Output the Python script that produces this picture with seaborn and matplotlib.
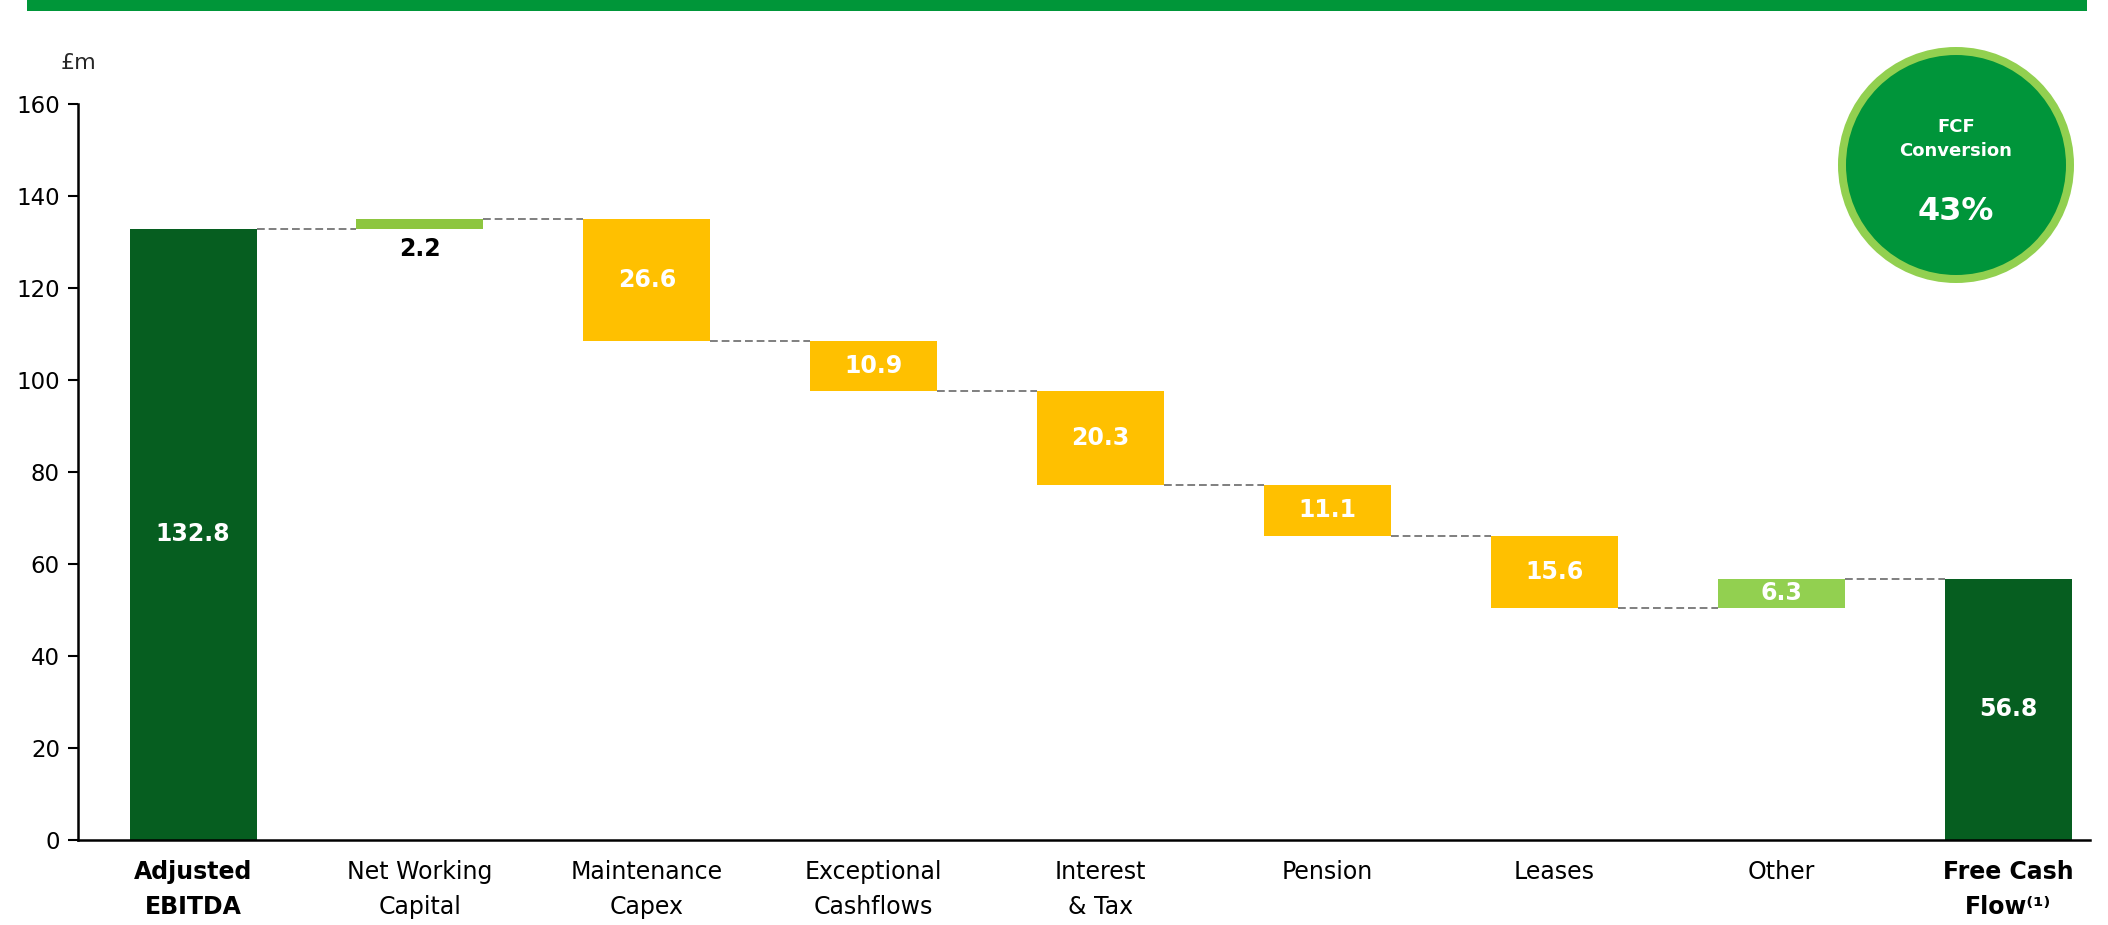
import matplotlib
matplotlib.use("Agg")
import matplotlib.pyplot as plt
from matplotlib.patches import Circle, Rectangle
import seaborn as sns
import pandas as pd
import numpy as np

# ---- data ----
categories = ["Adjusted\nEBITDA", "Net Working\nCapital", "Maintenance\nCapex",
              "Exceptional\nCashflows", "Interest\n& Tax", "Pension", "Leases",
              "Other", "Free Cash\nFlow⁽¹⁾"]
changes = [132.8, 2.2, -26.6, -10.9, -20.3, -11.1, -15.6, 6.3, 56.8]
kinds = ["total", "up", "down", "down", "down", "down", "down", "up", "total"]
value_labels = ["132.8", "2.2", "26.6", "10.9", "20.3", "11.1", "15.6", "6.3", "56.8"]
y_ticks = [0, 20, 40, 60, 80, 100, 120, 140, 160]
fcf_conversion = "43%"

# ---- styles ----
DARK = "#065E20"
LIGHT1 = "#8DC63F"
LIGHT2 = "#92D050"
YELLOW = "#FFC000"
colors = [DARK, LIGHT1, YELLOW, YELLOW, YELLOW, YELLOW, YELLOW, LIGHT2, DARK]

# compute bottoms / heights of waterfall
bottoms, heights, running = [], [], 0.0
for v, k in zip(changes, kinds):
    if k == "total":
        bottoms.append(0.0); heights.append(v); running = v
    elif v >= 0:
        bottoms.append(running); heights.append(v); running += v
    else:
        bottoms.append(running + v); heights.append(-v); running += v
levels = []
run = 0.0
for v, k in zip(changes, kinds):
    run = v if k == "total" else run + v
    levels.append(run)

df = pd.DataFrame({"cat": categories, "height": heights})

sns.set_style("white")
plt.rcParams["font.family"] = ["DejaVu Sans"]

W, H, DPI = 2108, 925, 100
fig = plt.figure(figsize=(W / DPI, H / DPI), dpi=DPI)
ax = fig.add_axes([78 / W, 1 - 840 / H, (2090 - 78) / W, (840 - 103.5) / H])

BW = 0.56
sns.barplot(data=df, x="cat", y="height", order=categories, ax=ax,
            width=BW, bottom=bottoms, color=DARK, linewidth=0, saturation=1)
for p, c in zip(ax.patches, colors):
    p.set_facecolor(c)

# connectors
for i in range(len(categories) - 1):
    ax.plot([i + BW / 2, i + 1 - BW / 2], [levels[i], levels[i]],
            color="#7F7F7F", lw=1.4, ls=(0, (4, 2)), zorder=1)

# value labels
for i, (b, h, lab) in enumerate(zip(bottoms, heights, value_labels)):
    if i == 1:
        ax.text(i, b - 4.5, lab, ha="center", va="center", fontsize=17,
                fontweight="bold", color="black")
    else:
        ax.text(i, b + h / 2, lab, ha="center", va="center", fontsize=17,
                fontweight="bold", color="white")

ax.set_xlim(-0.507, 8.36)
ax.set_ylim(0, 160)
ax.set_yticks(y_ticks)
ax.set_xlabel("")
ax.set_ylabel("")
sns.despine(ax=ax, top=True, right=True)
for s in ["left", "bottom"]:
    ax.spines[s].set_linewidth(1.8)
    ax.spines[s].set_color("black")
ax.tick_params(axis="y", which="both", left=True, length=7, width=1.5,
               labelsize=16.5, pad=6, colors="black")
ax.tick_params(axis="x", bottom=False, labelsize=17, pad=11, colors="black")
for i, t in enumerate(ax.get_xticklabels()):
    t.set_va("top")
    t.set_linespacing(1.55)
    if i in (0, 8):
        t.set_fontweight("bold")

# £m label
fig.text(78 / W, 1 - 63 / H, "£m", ha="center", va="center", fontsize=16)

# top bar
fig.add_artist(Rectangle((27 / W, 1 - 11 / H), (2087 - 27) / W, 11 / H,
                         transform=fig.transFigure, facecolor="#009639",
                         edgecolor="none"))

# circle badge
cx, cy = 1956, H - 165
circ = Circle((cx, cy), 114, transform=None, facecolor="#00953A",
              edgecolor="#92D050", linewidth=8 * 72 / DPI)
fig.add_artist(circ)
fig.text(cx / W, 1 - 127 / H, "FCF", ha="center", va="center", fontsize=13,
         fontweight="bold", color="white")
fig.text(cx / W, 1 - 151 / H, "Conversion", ha="center", va="center", fontsize=13,
         fontweight="bold", color="white")
fig.text(cx / W, 1 - 211 / H, fcf_conversion, ha="center", va="center", fontsize=23,
         fontweight="bold", color="white")

fig.savefig("out.png", dpi=DPI)
